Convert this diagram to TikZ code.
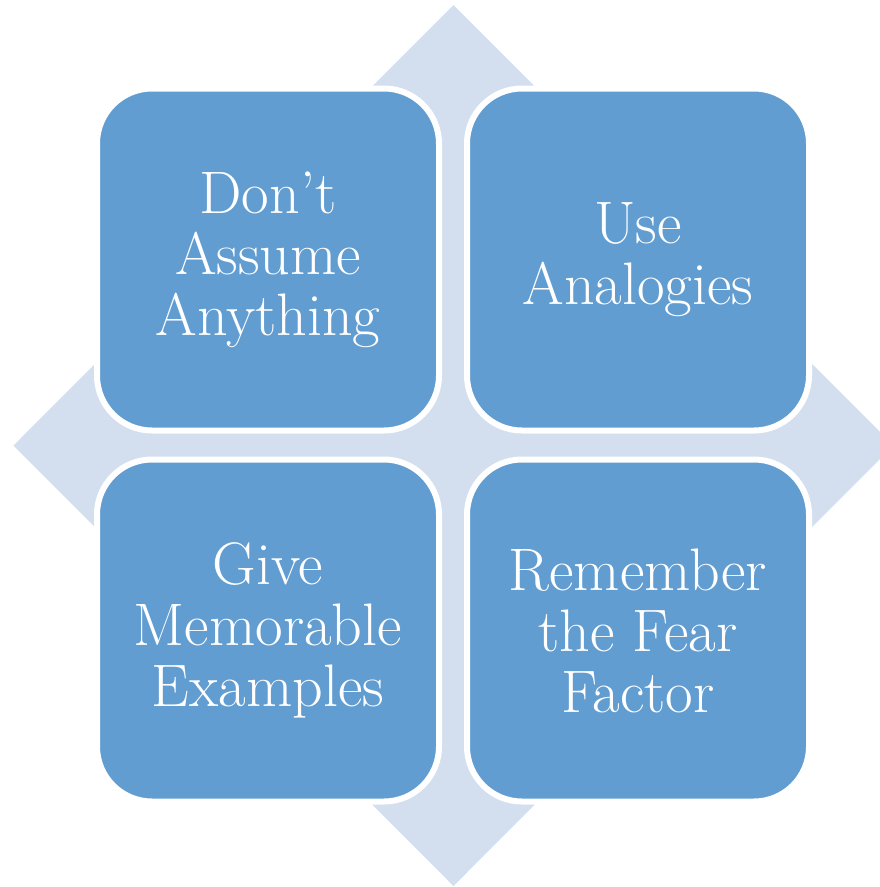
\documentclass[tikz,border=0pt]{standalone}
\usepackage{tikz}
\usetikzlibrary{positioning}

\definecolor{boxblue}{HTML}{629DD1}
\definecolor{backdrop}{HTML}{D3DFEE}

\tikzset{
	tip/.style={rounded corners=55pt, minimum size=342pt, outer sep=0pt,
		fill=boxblue, draw=white, line width=6pt, text=white, align=center,
		font=\fontsize{60}{61}\selectfont},
}

\begin{document}
\begin{tikzpicture}[x=1pt, y=-1pt, node distance=28pt and 28pt]
	\useasboundingbox (0,0) rectangle (880,887);
	\clip (0,0) rectangle (880,887);
	%% diamond behind
	\fill[backdrop] (453.5,5) -- (893.5,445.5) -- (453.5,886) -- (13.5,445.5) -- cycle;
	%% the four tips
	\node[tip] (dont) at (268,259.5) {Don't\\Assume\\Anything};
	\node[tip, right=of dont] (analog) {Use\\Analogies};
	\node[tip, below=29pt of dont] (examples) {Give\\Memorable\\Examples};
	\node[tip, below=29pt of analog] (fear) {Remember\\the Fear\\Factor};
\end{tikzpicture}
\end{document}
